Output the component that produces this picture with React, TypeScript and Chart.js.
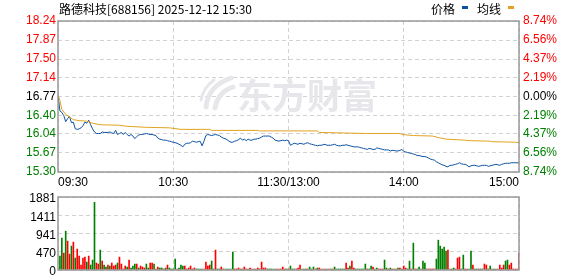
import React, { useEffect, useRef } from 'react';
import { Chart, registerables } from 'chart.js';

Chart.register(...registerables);

const TITLE = '路德科技[688156] 2025-12-12 15:30';
const PREV_CLOSE = 16.77;
const LEGEND_PRICE = '价格';
const LEGEND_AVG = '均线';
const WATERMARK = '东方财富';

const timeTickIdx = [0, 60, 120, 180, 240];
const timeLabels = ['09:30', '10:30', '11:30/13:00', '14:00', '15:00'];
const priceTicks = [15.30, 15.67, 16.04, 16.40, 16.77, 17.14, 17.50, 17.87, 18.24];
const pctLabels = ['8.74%', '6.56%', '4.37%', '2.19%', '0.00%', '2.19%', '4.37%', '6.56%', '8.74%'];
const volTicks = [0, 470, 941, 1411, 1881];

// minute-by-minute price (index 0 = 09:30, 120 = 11:30/13:00, 240 = 15:00)
const price = [
  16.81, 16.49, 16.46, 16.40, 16.28, 16.34, 16.38, 16.26, 16.27, 16.14,
  16.13, 16.14, 16.16, 16.20, 16.27, 16.25, 16.31, 16.22, 16.14, 16.08,
  16.05, 16.05, 16.05, 16.08, 16.07, 16.07, 16.07, 16.08, 16.06, 16.05,
  16.11, 16.03, 16.05, 16.07, 16.03, 16.07, 16.03, 16.00, 16.03, 16.00,
  15.95, 15.99, 16.02, 16.03, 16.03, 16.04, 16.05, 16.04, 16.03, 16.03,
  16.02, 16.01, 15.96, 15.94, 15.93, 15.92, 15.92, 15.91, 15.90, 15.89,
  15.88, 15.87, 15.86, 15.84, 15.82, 15.79, 15.84, 15.86, 15.86, 15.87,
  15.90, 15.89, 15.88, 15.89, 15.90, 15.81, 15.90, 16.01, 16.03, 16.02,
  16.01, 16.02, 16.03, 16.02, 16.01, 15.98, 15.96, 15.95, 15.93, 15.90,
  15.88, 15.88, 15.90, 15.91, 15.93, 15.96, 15.92, 15.94, 15.91, 15.94,
  15.92, 15.92, 15.94, 15.94, 15.95, 15.96, 15.98, 16.00, 16.00, 16.00,
  16.00, 15.98, 15.96, 15.92, 15.91, 15.90, 15.91, 15.92, 15.91, 15.92,
  15.91,
  15.82, 15.84, 15.86, 15.85, 15.84, 15.86, 15.85, 15.84, 15.86, 15.87,
  15.85, 15.84, 15.83, 15.82, 15.81, 15.82, 15.82, 15.83, 15.84, 15.82,
  15.82, 15.82, 15.83, 15.84, 15.82, 15.81, 15.81, 15.82, 15.82, 15.83,
  15.82, 15.81, 15.80, 15.79, 15.79, 15.79, 15.78, 15.77, 15.76, 15.75,
  15.74, 15.76, 15.75, 15.74, 15.74, 15.77, 15.76, 15.75, 15.74, 15.73,
  15.73, 15.73, 15.71, 15.72, 15.72, 15.71, 15.71, 15.72, 15.74, 15.70,
  15.69, 15.68, 15.67, 15.66, 15.65, 15.64, 15.62, 15.62, 15.61, 15.60,
  15.60, 15.59, 15.57, 15.55, 15.54, 15.53, 15.50, 15.48, 15.46, 15.44,
  15.43, 15.41, 15.40, 15.43, 15.43, 15.44, 15.45, 15.46, 15.48, 15.46,
  15.45, 15.45, 15.43, 15.40, 15.42, 15.43, 15.43, 15.42, 15.41, 15.42,
  15.43, 15.43, 15.43, 15.41, 15.42, 15.43, 15.44, 15.45, 15.44, 15.43,
  15.45, 15.46, 15.47, 15.47, 15.47, 15.48, 15.48, 15.48, 15.48, 15.48,
];

// average-price line, read at its break points
const avgIdx = [0, 1, 2, 4, 6, 8, 11, 15, 18, 22, 32, 36, 46, 58, 64, 79, 80, 104, 105, 135, 136, 160, 178, 179, 185, 195, 198, 202, 212, 214, 225, 226, 238, 240];
const avgVal = [16.81, 16.69, 16.52, 16.42, 16.37, 16.32, 16.30, 16.29, 16.25, 16.22, 16.21, 16.19, 16.17, 16.16, 16.13, 16.13, 16.11, 16.11, 16.10, 16.10, 16.07, 16.05, 16.05, 16.03, 16.01, 16.00, 15.97, 15.94, 15.92, 15.91, 15.90, 15.89, 15.88, 15.87];

// minute volume
const volume = [
  0, 359, 821, 436, 1000, 744, 410, 616, 718, 308,
  539, 359, 128, 308, 333, 205, 359, 128, 256, 1744,
  180, 154, 513, 231, 128, 77, 128, 103, 180, 103,
  128, 180, 333, 154, 26, 103, 77, 256, 51, 103,
  154, 154, 51, 103, 77, 51, 154, 51, 180, 180,
  154, 26, 77, 51, 51, 26, 51, 128, 51, 26,
  26, 282, 26, 51, 128, 103, 103, 26, 51, 103,
  26, 51, 26, 26, 26, 26, 26, 205, 103, 128,
  231, 26, 513, 26, 26, 77, 26, 26, 26, 26,
  26, 462, 26, 26, 51, 26, 26, 77, 26, 26,
  51, 26, 26, 26, 51, 26, 205, 51, 51, 26,
  26, 26, 26, 26, 26, 26, 26, 77, 26, 26,
  26, 103, 26, 26, 26, 51, 128, 26, 26, 26,
  26, 77, 26, 77, 26, 51, 51, 26, 26, 26,
  26, 26, 26, 26, 77, 26, 26, 26, 26, 26,
  180, 51, 103, 231, 51, 26, 26, 26, 26, 26,
  154, 26, 26, 103, 77, 26, 51, 26, 26, 26,
  256, 51, 26, 51, 26, 26, 26, 51, 51, 26,
  103, 51, 26, 231, 26, 693, 26, 26, 77, 26,
  231, 180, 26, 26, 26, 26, 26, 282, 769, 616,
  539, 590, 488, 513, 26, 26, 51, 26, 308, 333,
  26, 385, 26, 26, 26, 488, 128, 26, 26, 26,
  26, 26, 154, 128, 26, 103, 26, 26, 26, 26,
  128, 51, 128, 231, 256, 128, 180, 26, 26, 26,
  436,
];

// r = up minute (red bar), g = down minute (green bar)
const volDir =
  'rggrgrrgrg' + 'rrrrrgrggg' + 'rrgrggrgrr' + 'rgrrrrgrgg' + 'grgrrrggrr' +
  'grrggrgrgg' + 'ggrgggrrrr' + 'rrggggrrrr' + 'ggrggrrggg' + 'ggrrrrgrrg' +
  'rrrgrrrrrg' + 'ggggrrrrrg' + 'rgggrrrggg' + 'rgggrgrrrr' + 'grgrgggggg' +
  'rrgrrggggg' + 'grggrggrrr' + 'ggrgrgrgrg' + 'rrggrgrggr' + 'ggrrrrrggg' +
  'gggrrggrrr' + 'ggrrggrggr' + 'ggrrggrggr' + 'rrrggrrrrr' + 'r';

const PRICE_COLOR = '#0b50a2';
const AVG_COLOR = '#e1a321';
const UP_COLOR = '#ff0000';
const DOWN_COLOR = '#008000';
const FLAT_COLOR = '#000000';
const GRID_COLOR = '#d2d2d2';
const FRAME_COLOR = '#999999';
const LABEL_FONT = { family: '"Liberation Sans", Arial, sans-serif', size: 12 };
const CJK_FONT = '"Noto Sans CJK SC", sans-serif';

const framePlugin = {
  id: 'frame',
  afterDraw(chart: any) {
    const { ctx, chartArea: a } = chart;
    ctx.save();
    ctx.strokeStyle = FRAME_COLOR;
    ctx.lineWidth = 1.5;
    ctx.strokeRect(a.left, a.top, a.right - a.left, a.bottom - a.top);
    ctx.restore();
  },
};

const watermarkPlugin = {
  id: 'watermark',
  beforeDatasetsDraw(chart: any) {
    const { ctx } = chart;
    ctx.save();
    ctx.fillStyle = '#e7e7eb';
    ctx.strokeStyle = '#e7e7eb';
    ctx.lineCap = 'round';
    ctx.lineWidth = 5;
    ctx.beginPath();
    ctx.moveTo(206, 107);
    ctx.quadraticCurveTo(208, 86, 231, 78);
    ctx.moveTo(215, 108);
    ctx.quadraticCurveTo(218, 92, 233, 87);
    ctx.stroke();
    ctx.lineWidth = 3;
    ctx.beginPath();
    ctx.moveTo(201, 100);
    ctx.quadraticCurveTo(203, 88, 214, 80);
    ctx.stroke();
    ctx.font = `bold 35px ${CJK_FONT}`;
    ctx.textBaseline = 'middle';
    ctx.textAlign = 'left';
    ctx.fillText(WATERMARK, 237, 96);
    ctx.restore();
  },
};

const headerPlugin = {
  id: 'header',
  afterDraw(chart: any) {
    const { ctx } = chart;
    ctx.save();
    ctx.fillStyle = '#000';
    ctx.textBaseline = 'middle';
    ctx.textAlign = 'left';
    ctx.font = `12px ${CJK_FONT}`;
    ctx.fillText(TITLE, 59, 9);
    ctx.fillText(LEGEND_PRICE, 431, 9);
    ctx.fillText(LEGEND_AVG, 477, 9);
    ctx.fillStyle = PRICE_COLOR;
    ctx.fillRect(462, 6, 6, 3);
    ctx.fillStyle = AVG_COLOR;
    ctx.fillRect(508, 6, 6, 3);
    ctx.restore();
  },
};

const priceColor = (v: number) =>
  v > PREV_CLOSE + 0.001 ? UP_COLOR : v < PREV_CLOSE - 0.001 ? DOWN_COLOR : FLAT_COLOR;

const noPad = (s: any) => {
  s.paddingTop = 0;
  s.paddingBottom = 0;
};

export default function App() {
  const priceRef = useRef<HTMLCanvasElement>(null);
  const volRef = useRef<HTMLCanvasElement>(null);

  useEffect(() => {
    const priceChart = new Chart(priceRef.current as HTMLCanvasElement, {
      type: 'line',
      data: {
        datasets: [
          {
            label: LEGEND_AVG,
            data: avgIdx.map((x, k) => ({ x, y: avgVal[k] })),
            borderColor: AVG_COLOR,
            borderWidth: 1,
            pointRadius: 0,
            tension: 0,
            yAxisID: 'y',
          },
          {
            label: LEGEND_PRICE,
            data: price.map((y, x) => ({ x, y })),
            borderColor: PRICE_COLOR,
            borderWidth: 1,
            pointRadius: 0,
            tension: 0,
            yAxisID: 'y',
          },
        ],
      },
      options: {
        animation: false,
        responsive: false,
        events: [],
        layout: { padding: { top: 21, left: 0, right: 0, bottom: 0 } },
        plugins: { legend: { display: false }, tooltip: { enabled: false } },
        scales: {
          x: {
            type: 'linear',
            min: 0,
            max: 240,
            afterBuildTicks: (s: any) => {
              s.ticks = timeTickIdx.map((v) => ({ value: v }));
            },
            afterFit: (s: any) => {
              s.height = 18;
              s.paddingLeft = 0;
              s.paddingRight = 0;
            },
            ticks: {
              autoSkip: false,
              maxRotation: 0,
              align: 'inner',
              padding: 3,
              color: '#000',
              font: LABEL_FONT,
              callback: (_v: any, i: number) => timeLabels[i],
            },
            grid: { color: GRID_COLOR, drawTicks: false, lineWidth: 1 },
            border: { display: false, dash: [4, 3] },
          },
          y: {
            type: 'linear',
            position: 'left',
            min: 15.3,
            max: 18.24,
            afterBuildTicks: (s: any) => {
              s.ticks = priceTicks.map((v) => ({ value: v }));
            },
            afterFit: (s: any) => {
              s.width = 58;
              noPad(s);
            },
            ticks: {
              autoSkip: false,
              padding: 2,
              font: LABEL_FONT,
              color: (c: any) => priceColor(c.tick.value),
              callback: (v: any) => Number(v).toFixed(2),
            },
            grid: { color: GRID_COLOR, drawTicks: false, lineWidth: 1 },
            border: { display: false, dash: [4, 3] },
          },
          y2: {
            type: 'linear',
            position: 'right',
            min: 15.3,
            max: 18.24,
            afterBuildTicks: (s: any) => {
              s.ticks = priceTicks.map((v) => ({ value: v }));
            },
            afterFit: (s: any) => {
              s.width = 59;
              noPad(s);
            },
            ticks: {
              autoSkip: false,
              padding: 4,
              font: LABEL_FONT,
              color: (c: any) => priceColor(c.tick.value),
              callback: (_v: any, i: number) => pctLabels[i],
            },
            grid: { display: false, drawTicks: false },
            border: { display: false },
          },
        },
      } as any,
      plugins: [watermarkPlugin, framePlugin, headerPlugin],
    });

    const volChart = new Chart(volRef.current as HTMLCanvasElement, {
      type: 'bar',
      data: {
        datasets: [
          {
            label: 'volume',
            data: volume.map((y, x) => ({ x, y })),
            backgroundColor: volume.map((_, i) => (volDir[i] === 'r' ? UP_COLOR : DOWN_COLOR)),
            barThickness: 1,
            borderWidth: 0,
          },
        ],
      },
      options: {
        animation: false,
        responsive: false,
        events: [],
        layout: { padding: { top: 7, left: 0, right: 59, bottom: 6 } },
        plugins: { legend: { display: false }, tooltip: { enabled: false } },
        scales: {
          x: {
            type: 'linear',
            min: 0,
            max: 240,
            offset: false,
            afterBuildTicks: (s: any) => {
              s.ticks = timeTickIdx.map((v) => ({ value: v }));
            },
            afterFit: (s: any) => {
              s.height = 0;
              s.paddingLeft = 0;
              s.paddingRight = 0;
            },
            ticks: { display: false },
            grid: { color: GRID_COLOR, drawTicks: false, offset: false, lineWidth: 1 },
            border: { display: false, dash: [4, 3] },
          },
          y: {
            type: 'linear',
            min: 0,
            max: 1881,
            afterBuildTicks: (s: any) => {
              s.ticks = volTicks.map((v) => ({ value: v }));
            },
            afterFit: (s: any) => {
              s.width = 58;
              noPad(s);
            },
            ticks: {
              autoSkip: false,
              padding: 2,
              labelOffset: 2,
              font: LABEL_FONT,
              color: '#000',
              callback: (v: any) => String(v),
            },
            grid: { color: GRID_COLOR, drawTicks: false, lineWidth: 1 },
            border: { display: false, dash: [4, 3] },
          },
        },
      } as any,
      plugins: [framePlugin],
    });

    return () => {
      priceChart.destroy();
      volChart.destroy();
    };
  }, []);

  return (
    <div style={{ position: 'fixed', left: 0, top: 0, width: 578, height: 276, background: '#fff' }}>
      <canvas
        ref={priceRef}
        width={578}
        height={190}
        style={{ position: 'absolute', left: 0, top: 0, width: 578, height: 190 }}
      />
      <canvas
        ref={volRef}
        width={578}
        height={86}
        style={{ position: 'absolute', left: 0, top: 190, width: 578, height: 86 }}
      />
    </div>
  );
}
